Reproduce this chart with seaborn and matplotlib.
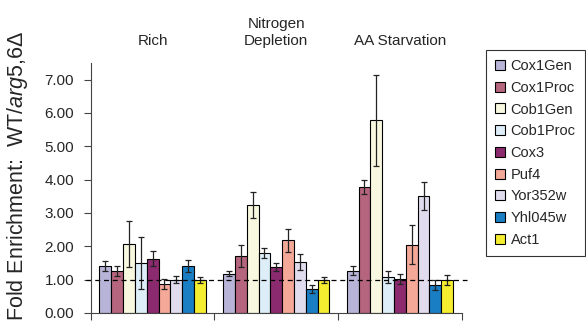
import numpy as np
import pandas as pd
import matplotlib
matplotlib.use("Agg")
import matplotlib.pyplot as plt
import seaborn as sns

# data
conditions = ["Rich", "Nitrogen\nDepletion", "AA Starvation"]
genes = ["Cox1Gen", "Cox1Proc", "Cob1Gen", "Cob1Proc", "Cox3", "Puf4", "Yor352w", "Yhl045w", "Act1"]

rich = [1.41, 1.26, 2.07, 1.50, 1.63, 0.87, 1.00, 1.41, 0.99]
rich_err = [0.16, 0.14, 0.70, 0.77, 0.22, 0.14, 0.10, 0.19, 0.10]
nitrogen = [1.18, 1.72, 3.23, 1.80, 1.38, 2.18, 1.53, 0.72, 0.99]
nitrogen_err = [0.08, 0.33, 0.39, 0.15, 0.12, 0.34, 0.23, 0.13, 0.10]
aa = [1.27, 3.78, 5.78, 1.08, 1.02, 2.05, 3.51, 0.84, 1.00]
aa_err = [0.13, 0.20, 1.37, 0.17, 0.15, 0.58, 0.43, 0.15, 0.15]

colors = ["#B8B4D8", "#B5657E", "#F8F8E0", "#DDEEF8", "#8B2A6E",
          "#F4A898", "#E0DCEE", "#1A7EC4", "#F5EE30"]

rows = []
for cond, vals, errs in zip(conditions, [rich, nitrogen, aa], [rich_err, nitrogen_err, aa_err]):
    for g, v, e in zip(genes, vals, errs):
        rows.append({"condition": cond, "gene": g, "value": v, "err": e})
df = pd.DataFrame(rows)

sns.set_style("white")
plt.rcParams["font.family"] = ["Liberation Sans", "DejaVu Sans"]
plt.rcParams["mathtext.fontset"] = "custom"
plt.rcParams["mathtext.rm"] = "Liberation Sans"
plt.rcParams["mathtext.it"] = "Liberation Sans:italic"

fig = plt.figure(figsize=(5.86, 3.23), dpi=100)
ax = fig.add_axes([0.155, 0.031, 0.633, 0.774])

sns.barplot(data=df, x="condition", y="value", hue="gene", order=conditions,
            hue_order=genes, palette=colors, width=0.86, edgecolor="black",
            linewidth=0.8, saturation=1, errorbar=None, ax=ax)

# error bars on each bar centre
for cont, g in zip(ax.containers, genes):
    sub = df[df["gene"] == g].set_index("condition").loc[conditions]
    xs = [p.get_x() + p.get_width() / 2 for p in cont.patches]
    ax.errorbar(xs, sub["value"], yerr=sub["err"], fmt="none", ecolor="#222222",
                elinewidth=0.9, capsize=2.5, capthick=0.9)

ax.axhline(1.0, xmin=-0.012, xmax=1.015, color="black", ls=(0, (4, 3)), lw=0.9, clip_on=False)

ax.set_xlim(-0.5, 2.5)
ax.set_ylim(0, 7.5)
ax.set_xticks([-0.5, 0.5, 1.5, 2.5])
ax.set_xticklabels([])
ax.set_yticks(np.arange(0, 8, 1))
ax.set_yticklabels([f"{v:.2f}" for v in np.arange(0, 8, 1)], fontsize=11)
ax.tick_params(axis="both", direction="out", length=5, width=0.8, color="#444444",
               left=True, bottom=True, pad=7)
ax.set_xlabel("")
ax.set_ylabel(r"Fold Enrichment:  WT/$\mathit{arg5{,}6\Delta}$", fontsize=15.5)
ax.yaxis.set_label_coords(-0.165, 0.55)
for s in ["top", "right"]:
    ax.spines[s].set_visible(False)
for s in ["left", "bottom"]:
    ax.spines[s].set_color("#444444")
    ax.spines[s].set_linewidth(0.8)

for i, c in enumerate(conditions):
    ax.text(i, 1.06, c, transform=ax.get_xaxis_transform(), ha="center", va="bottom",
            fontsize=11, linespacing=1.3)

handles, labels = ax.get_legend_handles_labels()
leg = ax.legend(handles, labels, loc="upper left", bbox_to_anchor=(0.829, 0.845),
                bbox_transform=fig.transFigure, frameon=True, fancybox=False,
                edgecolor="black", fontsize=10.5, handlelength=0.68, handleheight=0.68,
                handletextpad=0.4, labelspacing=0.53, borderpad=0.62, borderaxespad=0)
leg.get_frame().set_linewidth(0.8)

fig.savefig("out.png", dpi=100)
